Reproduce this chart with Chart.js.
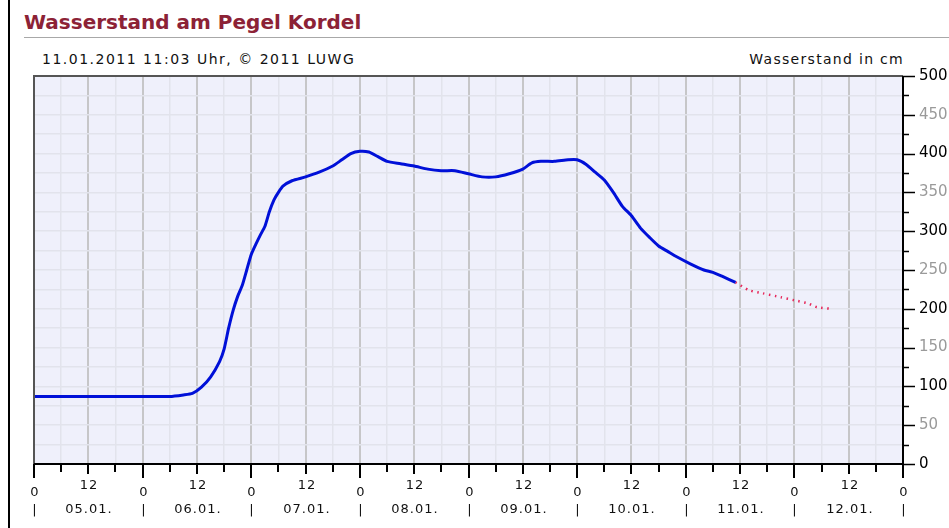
<!DOCTYPE html>
<html>
<head>
<meta charset="utf-8">
<script src="https://cdn.jsdelivr.net/npm/chart.js@4"></script>
<style>
  body { margin: 0; background: #fff; }
  #wrap { position: relative; width: 949px; height: 528px; overflow: hidden; font-family: "DejaVu Sans", Verdana, sans-serif; }
  #leftbar { position: absolute; left: 8px; top: 0; width: 2px; height: 528px; background: #000; }
  #title { position: absolute; left: 24px; top: 10px; font-size: 20px; font-weight: bold; color: #8c2236; }
  #rule { position: absolute; left: 24px; top: 37px; right: 0; height: 1px; background: #a8a8a8; }
  #stamp { position: absolute; left: 42px; top: 51px; font-size: 14px; letter-spacing: 1.5px; color: #111; }
  #unit { position: absolute; right: 45px; top: 51px; font-size: 14px; letter-spacing: 1.3px; color: #111; }
  canvas { position: absolute; left: 0; top: 0; }
</style>
</head>
<body>
<div id="wrap">
  <div id="leftbar"></div>
  <div id="title">Wasserstand am Pegel Kordel</div>
  <div id="rule"></div>
  <div id="stamp">11.01.2011 11:03 Uhr, © 2011 LUWG</div>
  <div id="unit">Wasserstand in cm</div>
  <canvas id="myChart" width="949" height="528"></canvas>
</div>
<script>
// Stunden ab 05.01. 0 Uhr
const hoursMeasured = [0, 6, 12, 18, 24, 30, 33, 35, 37, 39, 41, 42, 43, 44, 45, 46, 47, 48, 49, 50,
  51, 52, 53, 54, 55, 57, 60, 63, 66, 68, 70, 72, 74, 76, 78, 81, 84, 87, 90, 93,
  96, 99, 102, 105, 108, 110, 112, 115, 118, 120, 122, 124, 126, 128, 130, 132, 134, 136, 138, 140,
  142, 145, 148, 150, 152, 155];
const levelMeasured = [87, 87, 87, 87, 87, 87, 89, 91, 99, 112, 132, 148, 175, 198, 216, 230, 250, 270, 283, 295,
  306, 325, 340, 350, 358, 365, 370, 376, 384, 392, 400, 403, 402, 396, 390, 387, 384, 380, 378, 378,
  374, 370, 370, 374, 380, 388, 390, 390, 392, 392, 386, 376, 366, 350, 332, 320, 304, 292, 281, 274,
  267, 258, 250, 247, 242, 234];

const hoursForecast = [155, 158, 161, 165, 168, 171, 173, 176];
const levelForecast = [234, 224, 220, 215, 211, 207, 202, 200];

const dayLabels = ['05.01.', '06.01.', '07.01.', '08.01.', '09.01.', '10.01.', '11.01.', '12.01.'];

const FONT = '"DejaVu Sans", Verdana, sans-serif';

const pegelAxes = {
  id: 'pegelAxes',
  beforeDraw(chart) {
    const a = chart.chartArea;
    const c = chart.ctx;
    c.save();
    c.fillStyle = '#eff0fb';
    c.fillRect(a.left, a.top, a.right - a.left, a.bottom - a.top);
    c.restore();
  },
  afterDraw(chart) {
    const a = chart.chartArea;
    const c = chart.ctx;
    const x = chart.scales.x;
    const y = chart.scales.y;
    c.save();
    // Rahmen
    c.strokeStyle = '#555';
    c.lineWidth = 2;
    c.beginPath();
    c.moveTo(a.left, a.bottom);
    c.lineTo(a.left, a.top);
    c.lineTo(a.right, a.top);
    c.stroke();
    c.strokeStyle = '#000';
    c.beginPath();
    c.moveTo(a.left, a.bottom);
    c.lineTo(a.right, a.bottom);
    c.moveTo(a.right, a.top);
    c.lineTo(a.right, a.bottom);
    c.stroke();

    // y-Striche
    c.lineWidth = 1.5;
    for (let v = 0; v <= 500; v += 25) {
      const py = Math.round(y.getPixelForValue(v)) + 0.5;
      const len = v % 50 === 0 ? 12 : 6;
      c.beginPath();
      c.moveTo(a.right, py);
      c.lineTo(a.right + len, py);
      c.stroke();
    }

    // x-Striche und Beschriftung
    c.font = '13px ' + FONT;
    c.letterSpacing = '1px';
    c.fillStyle = '#111';
    c.textAlign = 'center';
    c.textBaseline = 'middle';
    for (let h = 0; h <= 192; h += 6) {
      const px = Math.round(x.getPixelForValue(h));
      let len = 8;
      if (h % 24 === 0) len = 14;
      else if (h % 12 === 0) len = 10;
      c.lineWidth = 2;
      c.beginPath();
      c.moveTo(px, a.bottom);
      c.lineTo(px, a.bottom + len);
      c.stroke();
      if (h % 24 === 0) {
        c.fillText('0', px + 1, a.bottom + 29);
        c.fillText('|', px + 1, a.bottom + 47);
      } else if (h % 12 === 0) {
        c.fillText('12', px + 1, a.bottom + 22);
        c.fillText(dayLabels[Math.floor(h / 24)], px + 1, a.bottom + 46);
      }
    }
    c.restore();
  }
};

const ctx = document.getElementById('myChart');

new Chart(ctx, {
  type: 'line',
  data: {
    datasets: [{
      label: 'Messwerte',
      data: hoursMeasured.map((h, i) => ({ x: h, y: levelMeasured[i] })),
      borderColor: '#0010d8',
      borderWidth: 3,
      pointRadius: 0,
      tension: 0.2
    }, {
      label: 'Vorhersage',
      data: hoursForecast.map((h, i) => ({ x: h, y: levelForecast[i] })),
      borderColor: '#e6285a',
      borderWidth: 2.5,
      borderDash: [1.5, 4.5],
      pointRadius: 0,
      tension: 0.2
    }]
  },
  options: {
    responsive: false,
    animation: false,
    layout: { padding: { left: 34, top: 76, right: 0, bottom: 0 } },
    plugins: {
      legend: { display: false },
      tooltip: { enabled: false }
    },
    scales: {
      x: {
        type: 'linear',
        min: 0,
        max: 192,
        afterFit: (s) => { s.height = 64; },
        ticks: { stepSize: 6, autoSkip: false, callback: () => '' },
        grid: {
          drawTicks: false,
          color: (c) => c.tick.value % 12 === 0 ? '#c6c6c8' : '#e2e3ec',
          lineWidth: (c) => c.tick.value % 12 === 0 ? 2 : 1.5
        },
        border: { display: false }
      },
      y: {
        position: 'right',
        min: 0,
        max: 500,
        afterFit: (s) => { s.width = 46; },
        ticks: {
          stepSize: 25,
          autoSkip: false,
          padding: 16,
          font: { family: FONT, size: 15 },
          color: (c) => c.tick.value % 100 === 0 ? '#000' : '#9a9a9a',
          callback: (v) => v % 50 === 0 ? v : ''
        },
        grid: { drawTicks: false, color: '#e2e3ec', lineWidth: 1.5 },
        border: { display: false }
      }
    }
  },
  plugins: [pegelAxes]
});
</script>
</body>
</html>
